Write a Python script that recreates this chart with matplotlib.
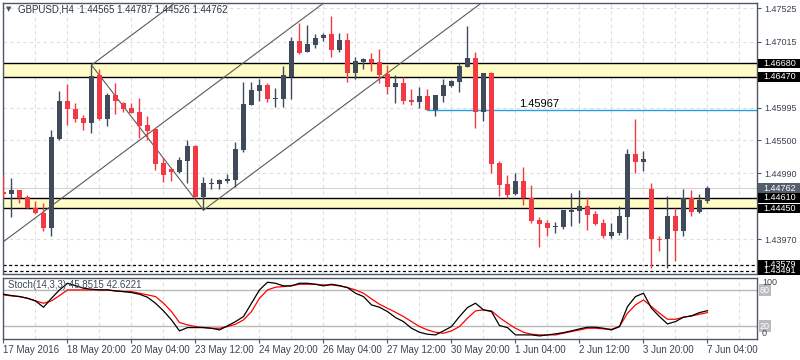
import numpy as np
import matplotlib
matplotlib.use('Agg')
import matplotlib.pyplot as plt
import matplotlib.transforms as mtransforms
from matplotlib.patches import Rectangle

plt.rcParams['font.family'] = ['Liberation Sans', 'DejaVu Sans']

# GBPUSD H4 bars, 17 May 2016 -> 7 Jun 2016
opens = [1.44705, 1.44664, 1.44730, 1.44628, 1.44448, 1.44371, 1.44151, 1.45515, 1.46100, 1.45977,
         1.45833, 1.45767, 1.46500, 1.45823, 1.46193, 1.46075, 1.45987, 1.45936, 1.45731, 1.45664,
         1.45141, 1.45054, 1.45013, 1.45182, 1.45408, 1.44628, 1.44823, 1.44823, 1.44874, 1.44884,
         1.45346, 1.46039, 1.46259, 1.46346, 1.46141, 1.46130, 1.46474, 1.47023, 1.46859, 1.46961,
         1.47064, 1.47131, 1.46884, 1.47038, 1.46536, 1.46705, 1.46746, 1.46705, 1.46515, 1.46320,
         1.46371, 1.46105, 1.46089, 1.46177, 1.45961, 1.46177, 1.46336, 1.46397, 1.46628, 1.46756,
         1.45935, 1.46536, 1.45151, 1.44823, 1.44669, 1.44869, 1.44602, 1.44269, 1.44217, 1.44155,
         1.44166, 1.44397, 1.44412, 1.44484, 1.44361, 1.44228, 1.44027, 1.44074, 1.44320, 1.45284,
         1.45166, 1.44746, 1.43981, 1.43971, 1.44330, 1.44105, 1.44602, 1.44397, 1.44565]
highs = [1.44961, 1.44910, 1.44730, 1.44654, 1.44561, 1.44525, 1.45654, 1.46254, 1.46362, 1.46064,
         1.45885, 1.46654, 1.46588, 1.46228, 1.46372, 1.46090, 1.46064, 1.46141, 1.45869, 1.45680,
         1.45233, 1.45074, 1.45243, 1.45500, 1.45418, 1.44936, 1.44910, 1.44895, 1.44972, 1.45464,
         1.46398, 1.46387, 1.46434, 1.46382, 1.46295, 1.46638, 1.47079, 1.47305, 1.47269, 1.47131,
         1.47141, 1.47413, 1.47151, 1.47141, 1.46772, 1.46767, 1.46833, 1.46895, 1.46654, 1.46500,
         1.46474, 1.46279, 1.46310, 1.46279, 1.46192, 1.46433, 1.46423, 1.46679, 1.47254, 1.46859,
         1.46536, 1.46551, 1.45182, 1.44961, 1.44987, 1.45090, 1.44807, 1.44320, 1.44269, 1.44243,
         1.44422, 1.44689, 1.44730, 1.44617, 1.44412, 1.44279, 1.44217, 1.44484, 1.45356, 1.45823,
         1.45330, 1.44833, 1.44022, 1.44638, 1.44459, 1.44741, 1.44730, 1.44669, 1.44787]
lows = [1.44602, 1.44310, 1.44525, 1.44433, 1.44356, 1.44105, 1.44028, 1.45500, 1.45731, 1.45782,
        1.45654, 1.45613, 1.45808, 1.45715, 1.45900, 1.45936, 1.45910, 1.45526, 1.45500, 1.45038,
        1.44859, 1.44874, 1.44987, 1.44833, 1.44618, 1.44423, 1.44746, 1.44746, 1.44833, 1.44782,
        1.45320, 1.46039, 1.46100, 1.46089, 1.46012, 1.46012, 1.46130, 1.46823, 1.46859, 1.46920,
        1.47028, 1.46772, 1.46859, 1.46397, 1.46438, 1.46592, 1.46566, 1.46371, 1.46202, 1.46074,
        1.46048, 1.46038, 1.45987, 1.45961, 1.45874, 1.46089, 1.46320, 1.46243, 1.46628, 1.45689,
        1.45792, 1.44997, 1.44643, 1.44602, 1.44654, 1.44500, 1.44228, 1.43858, 1.44022, 1.44063,
        1.44130, 1.44176, 1.44217, 1.44115, 1.44192, 1.43986, 1.43986, 1.44038, 1.43976, 1.44997,
        1.45027, 1.43525, 1.43797, 1.43525, 1.43643, 1.44027, 1.44330, 1.44381, 1.44526]
closes = [1.44664, 1.44730, 1.44613, 1.44448, 1.44371, 1.44151, 1.45541, 1.46100, 1.45977, 1.45823,
          1.45767, 1.46485, 1.45823, 1.46193, 1.46105, 1.45977, 1.45921, 1.45721, 1.45644, 1.45131,
          1.44961, 1.45013, 1.45192, 1.45408, 1.44628, 1.44833, 1.44833, 1.44884, 1.44900, 1.45361,
          1.46054, 1.46269, 1.46346, 1.46130, 1.46146, 1.46500, 1.47023, 1.46843, 1.46977, 1.47064,
          1.47115, 1.46884, 1.47038, 1.46536, 1.46715, 1.46746, 1.46679, 1.46500, 1.46320, 1.46371,
          1.46105, 1.46095, 1.46177, 1.45961, 1.46192, 1.46346, 1.46407, 1.46638, 1.46767, 1.45935,
          1.46536, 1.45130, 1.44807, 1.44654, 1.44869, 1.44602, 1.44253, 1.44207, 1.44150, 1.44176,
          1.44422, 1.44422, 1.44484, 1.44345, 1.44207, 1.44022, 1.44079, 1.44330, 1.45284, 1.45166,
          1.45207, 1.43971, 1.43961, 1.44330, 1.44105, 1.44602, 1.44397, 1.44576, 1.44762]

# Stochastic(14,3,3): main (black) and signal (red)
stoch_k = [73.3, 71.1, 69.4, 66.6, 62.2, 51.6, 66.6, 80.5, 91.6, 87.7,
           83.3, 81.6, 80.5, 80.5, 78.8, 77.7, 76.1, 73.3, 68.3, 58.3,
           45.5, 30.5, 12.2, 17.7, 17.7, 17.7, 16.6, 13.8, 20.5, 27.7,
           36.1, 58.3, 80.5, 93.3, 91.6, 87.2, 87.2, 91.6, 91.6, 89.9,
           87.2, 89.9, 87.7, 84.4, 75.0, 69.4, 55.5, 51.6, 44.4, 34.4,
           27.7, 16.6, 9.9, 6.6, 5.5, 12.2, 19.4, 36.1, 51.1, 58.3,
           47.2, 44.4, 21.1, 17.7, 5.5, 5.5, 5.5, 3.8, 5.5, 7.2,
           9.4, 12.2, 15.5, 18.3, 18.3, 16.6, 13.8, 19.4, 52.7, 69.4,
           75.0, 49.9, 36.1, 23.8, 27.7, 35.0, 37.2, 42.7, 45.8515]
stoch_d = [72.2, 70.5, 69.4, 66.6, 62.2, 58.3, 62.2, 71.1, 80.5, 80.5,
           80.5, 80.5, 80.5, 80.5, 78.8, 77.7, 77.7, 75.0, 72.2, 69.4,
           58.3, 44.4, 26.1, 22.2, 19.4, 17.7, 16.6, 16.6, 19.4, 23.3,
           30.5, 44.4, 66.6, 80.5, 85.0, 86.1, 87.7, 89.9, 89.9, 89.9,
           88.8, 88.8, 87.2, 84.4, 80.5, 75.0, 65.5, 56.6, 49.9, 43.3,
           36.1, 27.7, 19.4, 13.8, 9.9, 8.3, 12.2, 19.4, 33.3, 45.5,
           47.2, 45.5, 34.4, 25.0, 16.6, 9.9, 6.6, 5.5, 5.5, 5.5,
           8.3, 11.1, 13.8, 16.6, 16.6, 15.5, 14.9, 19.4, 41.6, 55.5,
           63.8, 52.7, 41.6, 31.6, 31.6, 35.0, 37.2, 39.9, 42.6221]

time_labels = ['17 May 2016', '18 May 20:00', '20 May 04:00', '23 May 12:00', '24 May 20:00',
               '26 May 04:00', '27 May 12:00', '30 May 20:00', '1 Jun 04:00', '2 Jun 12:00',
               '3 Jun 20:00', '7 Jun 04:00']
price_ticks = [1.47525, 1.47015, 1.45995, 1.45500, 1.44990, 1.43970]
hidden_grid = [1.46505, 1.44480]
zones = [(1.46470, 1.46680), (1.44450, 1.44610)]
dashed_levels = [1.43579, 1.43491]
blue_level = 1.45967
blue_start_bar = 53
blue_text_bar = 64.5
last_price = 1.44762
ohlc_title = 'GBPUSD,H4  1.44565 1.44787 1.44526 1.44762'
stoch_title = 'Stoch(14,3,3) 45.8515 42.6221'

# channel drawing: anchors (bar, price) and slope in price per bar
chan_top = (11, 1.46654)
chan_bottom = (25, 1.44423)
chan_mid = (30.8, 1.46762)
chan_slope = 0.000917

BULL = '#3f4a5a'
BEAR = '#f23a45'
FRAME = '#4d5866'
GRID = '#dedede'
TEXT = '#3a4350'

W, H = 800, 360
AX_L, AX_R = 2.5, 757.0
MAIN_T, MAIN_B = 2.5, 274.0
ST_T, ST_B = 277.5, 338.5
AXW = AX_R - AX_L


def px_box(top, bottom):
    return [AX_L / W, 1 - bottom / H, AXW / W, (bottom - top) / H]


def right_label(ax, y, text, fc, tc, h_data, size=6.5, x0=1.5, x1=45):
    trans = mtransforms.blended_transform_factory(ax.transAxes, ax.transData)
    ax.add_patch(Rectangle((1 + x0 / AXW, y - h_data / 2), (x1 - x0) / AXW, h_data,
                           transform=trans, facecolor=fc, edgecolor='none',
                           clip_on=False, zorder=20))
    ax.text(1 + 6.5 / AXW, y, text, transform=trans, color=tc, fontsize=size,
            ha='left', va='center', clip_on=False, zorder=21)


def main():
    x = np.arange(len(opens))
    o = np.array(opens)
    c = np.array(closes)
    hi = np.array(highs)
    lo = np.array(lows)

    fig = plt.figure(figsize=(W / 100, H / 100), dpi=100)
    fig.patch.set_facecolor('white')

    ax = fig.add_axes(px_box(MAIN_T, MAIN_B))
    ax2 = fig.add_axes(px_box(ST_T, ST_B), sharex=ax)

    px_per_price = (MAIN_B - MAIN_T) / 0.04177
    ax.set_xlim(-0.125, 94.19)
    ax.set_ylim(1.43439, 1.47616)

    # grid
    for b in range(0, 96, 4):
        ax.axvline(b, color=GRID, lw=0.8, dashes=(3, 3), zorder=0)
        ax2.axvline(b, color=GRID, lw=0.8, dashes=(3, 3), zorder=0)
    for p in price_ticks + hidden_grid:
        ax.axhline(p, color=GRID, lw=0.8, dashes=(3, 3), zorder=0)

    # support / resistance zones
    for z0, z1 in zones:
        ax.axhspan(z0, z1, color='#fffcc8', lw=0, zorder=1)
        ax.axhline(z0, color='black', lw=1.0, zorder=2)
        ax.axhline(z1, color='black', lw=1.0, zorder=2)
    for p in dashed_levels:
        ax.axhline(p, color='black', lw=0.9, dashes=(2.5, 2), zorder=2)
    ax.axhline(last_price, color='#d4d4d4', lw=0.8, zorder=1)

    ax.plot([blue_start_bar, 100], [blue_level, blue_level], color='#1fa2e0', lw=1.0, zorder=2)
    ax.text(blue_text_bar, blue_level + 0.00012, '%.5f' % blue_level, fontsize=8,
            color='black', ha='left', va='bottom', zorder=6)

    # channel lines
    xs = np.array([chan_top[0], chan_top[0] + 20])
    ax.plot(xs, chan_top[1] + (xs - chan_top[0]) * chan_slope, color='#5a5a5a', lw=0.8, zorder=2)
    xs = np.array([-2, 50])
    ax.plot(xs, chan_mid[1] + (xs - chan_mid[0]) * chan_slope, color='#5a5a5a', lw=0.8, zorder=2)
    xs = np.array([chan_bottom[0], chan_bottom[0] + 40])
    ax.plot(xs, chan_bottom[1] + (xs - chan_bottom[0]) * chan_slope, color='#5a5a5a', lw=0.8, zorder=2)
    ax.plot([chan_top[0], chan_bottom[0]], [chan_top[1], chan_bottom[1]], color='#5a5a5a', lw=0.8, zorder=2)

    # candles
    colors = np.where(c >= o, BULL, BEAR)
    ax.vlines(x, lo, hi, colors=colors, lw=1.0, zorder=3)
    mid = (o + c) / 2
    body = np.maximum(np.abs(c - o), 1.2 / px_per_price)
    ax.bar(x, body, bottom=mid - body / 2, width=0.64, color=colors, lw=0, zorder=4)

    # price axis
    ax.yaxis.tick_right()
    ax.set_yticks(price_ticks)
    ax.set_yticklabels(['%.5f' % p for p in price_ticks])
    ax.tick_params(axis='y', length=3, width=0.8, color=FRAME, labelsize=6.5,
                   labelcolor=TEXT, pad=2)
    ax.tick_params(axis='x', length=0, labelbottom=False)
    for s in ax.spines.values():
        s.set_color(FRAME)
        s.set_linewidth(1.0)

    hd = 9.5 / px_per_price
    right_label(ax, last_price, '%.5f' % last_price, '#545e6b', 'white', hd)
    for z0, z1 in zones:
        right_label(ax, z1, '%.5f' % z1, 'black', 'white', hd)
        right_label(ax, z0, '%.5f' % z0, 'black', 'white', hd)
    for p in dashed_levels:
        right_label(ax, p, '%.5f' % p, 'black', 'white', hd)

    fig.text(5.5 / W, 1 - 9.5 / H, '\u25bc', fontsize=5, color='#4a5462', ha='left', va='center',
             family=['DejaVu Sans'])
    fig.text(18 / W, 1 - 9.5 / H, ohlc_title, fontsize=7, color='#2e3540', ha='left', va='center')

    # stochastic panel
    ax2.set_ylim(-0.5, 101.2)
    ax2.axhline(80, color='#b8b8b8', lw=1.0, zorder=1)
    ax2.axhline(20, color='#b8b8b8', lw=1.0, zorder=1)
    ax2.plot(x, stoch_d, color='#ff0000', lw=0.9, zorder=3)
    ax2.plot(x, stoch_k, color='black', lw=0.9, zorder=4)
    ax2.text(6 / AXW, 0.88, stoch_title, transform=ax2.transAxes, fontsize=7,
             color='#3c4a5c', ha='left', va='center', zorder=6)

    ax2.set_xticks(np.arange(0, len(time_labels) * 8, 8))
    ax2.set_xticklabels(time_labels)
    for lab in ax2.get_xticklabels():
        lab.set_horizontalalignment('left')
    ax2.tick_params(axis='x', length=3, width=0.8, color=FRAME, labelsize=7,
                    labelcolor=TEXT, pad=1.5)
    ax2.set_yticks([])
    for s in ax2.spines.values():
        s.set_color(FRAME)
        s.set_linewidth(1.0)

    trans2 = mtransforms.blended_transform_factory(ax2.transAxes, ax2.transData)
    for lvl in (80, 20):
        ax2.text(1 + 3 / AXW, lvl, str(lvl), transform=trans2, fontsize=6.5, color='white',
                 ha='left', va='center', clip_on=False, zorder=20,
                 bbox=dict(boxstyle='square,pad=0.15', fc='#bcbcbc', ec='none'))
    ax2.text(1 + 5 / AXW, 100, '100', transform=trans2, fontsize=6.5, color=TEXT,
             ha='left', va='top', clip_on=False, zorder=21)
    ax2.text(1 + 5 / AXW, 0, '0', transform=trans2, fontsize=6.5, color=TEXT,
             ha='left', va='bottom', clip_on=False, zorder=21)

    fig.savefig('out.png', dpi=100)
    plt.close(fig)


if __name__ == "__main__":
    main()
